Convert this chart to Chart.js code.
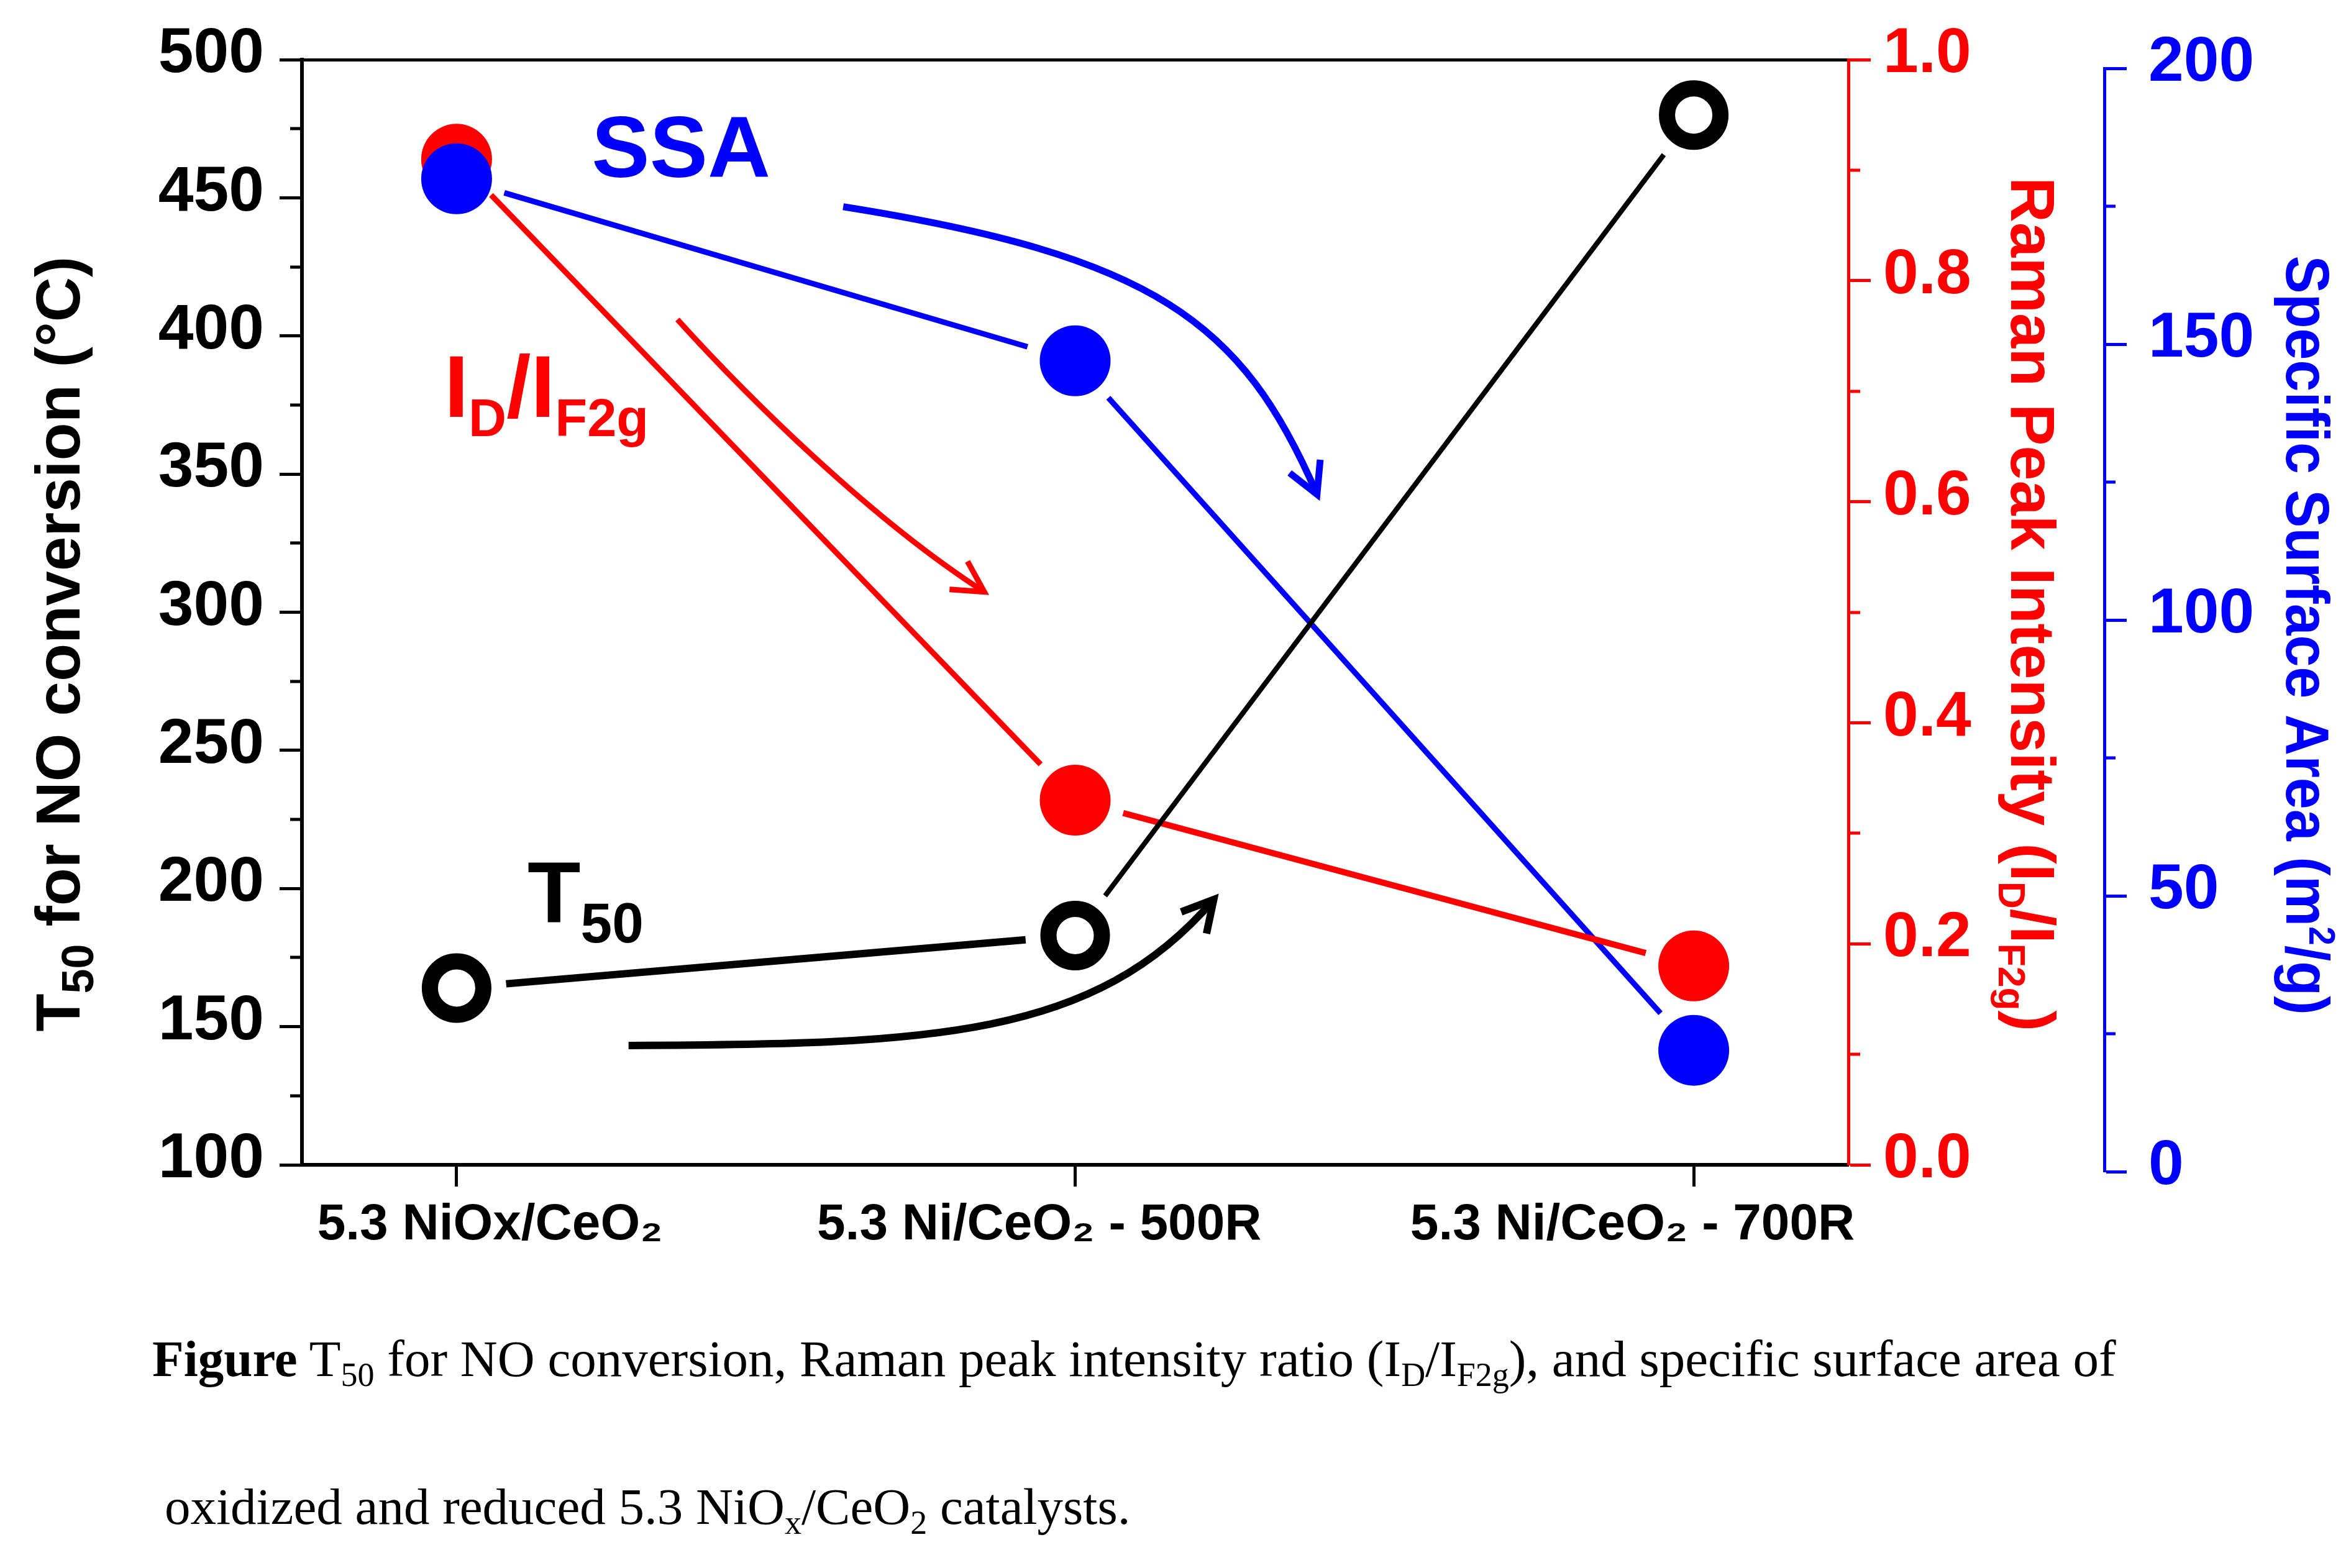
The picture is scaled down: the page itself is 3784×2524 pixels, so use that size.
<!DOCTYPE html>
<html>
<head>
<meta charset="utf-8">
<title>T50 / Raman / SSA</title>
<script src="https://cdn.jsdelivr.net/npm/chart.js@4.4.1/dist/chart.umd.min.js"></script>
<style>
  html, body { margin: 0; padding: 0; background: #fff; }
  #wrap { position: relative; width: 3784px; height: 2524px; overflow: hidden; }
  #chart { position: absolute; left: 0; top: 0; width: 3784px; height: 2524px; }
  .cap { position: absolute; font-family: 'Liberation Serif', 'Times New Roman', serif; font-size: 83px;
         line-height: 83px; white-space: nowrap; color: #000; }
  .cap sub { font-size: 0.65em; vertical-align: -16px; line-height: 0; }
</style>
</head>
<body>
<div id="wrap">
  <canvas id="chart" width="3784" height="2524"></canvas>
  <div class="cap" style="left:245px; top:2146px;"><b>Figure</b> T<sub>50</sub> for NO conversion, Raman peak intensity ratio (I<sub>D</sub>/I<sub>F2g</sub>), and specific surface area of</div>
  <div class="cap" style="left:265px; top:2384px;">oxidized and reduced 5.3 NiO<sub>x</sub>/CeO<sub>2</sub> catalysts.</div>
</div>
<script>
// ---------- data ----------
const categories = ['5.3 NiOx/CeO₂', '5.3 Ni/CeO₂ - 500R', '5.3 Ni/CeO₂ - 700R'];
const t50Values = [164, 183, 480];        // left axis, °C
const ramanRatio = [0.91, 0.33, 0.18];    // red axis, I_D/I_F2g
const ssaValues = [180, 147, 22];         // blue axis, m2/g

const t50Ticks = [100, 150, 200, 250, 300, 350, 400, 450, 500];
const t50Minor = [125, 175, 225, 275, 325, 375, 425, 475];
const ramanTicks = [0, 0.2, 0.4, 0.6, 0.8, 1.0];
const ramanMinor = [0.1, 0.3, 0.5, 0.7, 0.9];
const ssaTicks = [0, 50, 100, 150, 200];
const ssaMinor = [25, 75, 125, 175];

// ---------- look ----------
const BLACK = '#000000', RED = '#ff0000', BLUE = '#0000ff';
const SANS = "'Liberation Sans', Arial, sans-serif";
const tickFont = { family: SANS, size: 102, weight: 'bold' };
const GAP = 80;                 // gap between symbol centre and connecting line
const labelCenters = [0.054, 0.942, 1.901];   // category labels are not centred on the ticks
const ssaAxisShift = { top: 14, bottom: 11 }; // blue axis sits a little lower than the frame

// per dataset: connecting line colour and widths of the two segments
const lineStyles = [
  { color: BLUE, widths: [9, 9] },
  { color: RED, widths: [9, 10] },
  { color: BLACK, widths: [12, 8] }
];

// curved arrows, in (category index, left-axis value) units
const arrowPaths = [
  { color: BLUE, width: 11, pts: [[0.625, 446.8], [1.128, 428.9], [1.270, 405.4], [1.391, 342.7]] },
  { color: RED, width: 9, pts: [[0.357, 406.0], [0.468, 378.5], [0.669, 333.8], [0.853, 307.4]] },
  { color: BLACK, width: 12, pts: [[0.278, 143.2], [0.770, 143.6], [1.032, 145.9], [1.224, 196.0]] }
];

const toPoints = vals => vals.map((v, i) => ({ x: i, y: v }));
const fixedTicks = values => scale => { scale.ticks = values.map(v => ({ value: v })); };

// text with sub/superscripts, drawn at an alphabetic baseline
function drawRich(ctx, parts, x, y, o) {
  const fontFor = small => `${o.weight || 'bold'} ${small ? o.size * (o.subScale || 0.65) : o.size}px ${o.family || SANS}`;
  let total = 0;
  const widths = parts.map(([t, k]) => {
    ctx.font = fontFor(!!k);
    const w = ctx.measureText(t).width;
    total += w;
    return w;
  });
  ctx.save();
  ctx.translate(x, y);
  ctx.rotate(o.rotation || 0);
  ctx.scale(o.hscale || 1, 1);
  ctx.fillStyle = o.color;
  ctx.textAlign = 'left';
  ctx.textBaseline = 'alphabetic';
  let cx = o.align === 'center' ? -total / 2 : 0;
  parts.forEach(([t, k], i) => {
    ctx.font = fontFor(!!k);
    let dy = 0;
    if (k === 'sub') dy = (o.subShift || 0.22) * o.size;
    if (k === 'sup') dy = -(o.supShift || 0.38) * o.size;
    ctx.fillText(t, cx, dy);
    cx += widths[i];
  });
  ctx.restore();
}

function drawMinor(chart, id, values, len, color, side) {
  const s = chart.scales[id];
  const ctx = chart.ctx;
  const x0 = side === 'left' ? s.right : s.left;
  const dir = side === 'left' ? -1 : 1;
  ctx.save();
  ctx.strokeStyle = color;
  ctx.lineWidth = 5;
  values.forEach(v => {
    const y = Math.round(s.getPixelForValue(v));
    ctx.beginPath();
    ctx.moveTo(x0, y);
    ctx.lineTo(x0 + dir * len, y);
    ctx.stroke();
  });
  ctx.restore();
}

function drawArrow(ctx, xs, ys, a) {
  const P = a.pts.map(([vx, vy]) => [xs.getPixelForValue(vx), ys.getPixelForValue(vy)]);
  ctx.save();
  ctx.strokeStyle = a.color;
  ctx.lineWidth = a.width;
  ctx.lineCap = 'butt';
  ctx.beginPath();
  ctx.moveTo(P[0][0], P[0][1]);
  ctx.bezierCurveTo(P[1][0], P[1][1], P[2][0], P[2][1], P[3][0], P[3][1]);
  ctx.stroke();
  const ang = Math.atan2(P[3][1] - P[2][1], P[3][0] - P[2][0]);
  const head = 56, spread = 0.5;
  ctx.lineJoin = 'miter';
  ctx.beginPath();
  ctx.moveTo(P[3][0] - head * Math.cos(ang - spread), P[3][1] - head * Math.sin(ang - spread));
  ctx.lineTo(P[3][0], P[3][1]);
  ctx.lineTo(P[3][0] - head * Math.cos(ang + spread), P[3][1] - head * Math.sin(ang + spread));
  ctx.stroke();
  ctx.restore();
}

// ---------- plugins ----------
const shiftSSA = {
  id: 'shiftSSA',
  afterLayout(chart) {
    const s = chart.scales.yS;
    s.top = chart.chartArea.top + ssaAxisShift.top;
    s.bottom = chart.chartArea.bottom + ssaAxisShift.bottom;
    s.height = s.bottom - s.top;
    s.configure();
    s._gridLineItems = null;
    s._labelItems = null;
  }
};

const gapLines = {
  id: 'gapLines',
  beforeDatasetsDraw(chart) {
    const ctx = chart.ctx;
    chart.data.datasets.forEach((ds, di) => {
      const pts = chart.getDatasetMeta(di).data;
      const st = lineStyles[di];
      ctx.save();
      ctx.strokeStyle = st.color;
      ctx.lineCap = 'butt';
      for (let i = 0; i < pts.length - 1; i++) {
        const a = pts[i], b = pts[i + 1];
        const dx = b.x - a.x, dy = b.y - a.y, len = Math.hypot(dx, dy);
        const ux = dx / len, uy = dy / len;
        ctx.lineWidth = st.widths[i];
        ctx.beginPath();
        ctx.moveTo(a.x + ux * GAP, a.y + uy * GAP);
        ctx.lineTo(b.x - ux * GAP, b.y - uy * GAP);
        ctx.stroke();
      }
      ctx.restore();
    });
  }
};

const decorations = {
  id: 'decorations',
  afterDraw(chart) {
    const ctx = chart.ctx;
    const { x, yT, yR, yS } = chart.scales;
    const area = chart.chartArea;
    const midY = (area.top + area.bottom) / 2;

    drawMinor(chart, 'yT', t50Minor, 19, BLACK, 'left');
    drawMinor(chart, 'yR', ramanMinor, 19, RED, 'right');
    drawMinor(chart, 'yS', ssaMinor, 18, BLUE, 'right');

    arrowPaths.forEach(a => drawArrow(ctx, x, yT, a));

    // axis titles
    drawRich(ctx, [['T'], ['50', 'sub'], [' for NO conversion (°C)']], yT.left + 128, midY + 51,
      { size: 100, color: BLACK, rotation: -Math.PI / 2, align: 'center', subScale: 0.72, subShift: 0.22 });
    drawRich(ctx, [['Raman Peak Intensity (I'], ['D', 'sub'], ['/I'], ['F2g', 'sub'], [')']], yR.left + 262, midY - 13,
      { size: 101, color: RED, rotation: Math.PI / 2, align: 'center', subScale: 0.6, subShift: 0.2 });
    drawRich(ctx, [['Specific Surface Area (m'], ['2', 'sup'], ['/g)']], yS.left + 293, midY + 37,
      { size: 98, color: BLUE, rotation: Math.PI / 2, align: 'center', subScale: 0.6, supShift: 0.38, hscale: 0.935 });

    // in-plot labels
    drawRich(ctx, [['SSA']], x.getPixelForValue(0.2184), yT.getPixelForValue(457.5),
      { size: 140, color: BLUE });
    drawRich(ctx, [['I'], ['D', 'sub'], ['/I'], ['F2g', 'sub']], x.getPixelForValue(-0.0201), yT.getPixelForValue(370.7),
      { size: 141, color: RED, subScale: 0.6, subShift: 0.22 });
    drawRich(ctx, [['T'], ['50', 'sub']], x.getPixelForValue(0.1147), yT.getPixelForValue(187.9),
      { size: 140, color: BLACK, subScale: 0.65, subShift: 0.235 });
  }
};

// ---------- chart ----------
const yAxis = (opts) => ({
  type: 'linear',
  ...opts,
  grid: { drawOnChartArea: false, tickLength: 36, tickWidth: 5, tickColor: opts.color },
  border: { color: opts.color, width: opts.borderWidth || 5 },
});

new Chart(document.getElementById('chart'), {
  type: 'scatter',
  data: {
    datasets: [
      {
        label: 'SSA', data: toPoints(ssaValues), yAxisID: 'yS', xAxisID: 'x',
        pointRadius: 57, pointBorderWidth: 0, pointBackgroundColor: BLUE, showLine: false
      },
      {
        label: 'ID/IF2g', data: toPoints(ramanRatio), yAxisID: 'yR', xAxisID: 'x',
        pointRadius: 57, pointBorderWidth: 0, pointBackgroundColor: RED, showLine: false
      },
      {
        label: 'T50', data: toPoints(t50Values), yAxisID: 'yT', xAxisID: 'x',
        pointRadius: 43, pointBorderWidth: 26, pointBorderColor: BLACK, pointBackgroundColor: '#ffffff', showLine: false
      }
    ]
  },
  options: {
    responsive: false,
    devicePixelRatio: 1,
    animation: false,
    events: [],
    layout: { padding: 0 },
    plugins: { legend: { display: false }, tooltip: { enabled: false } },
    scales: {
      x: {
        type: 'linear', position: 'bottom', min: -0.25, max: 2.25, weight: 0,
        afterBuildTicks: fixedTicks([0, 1, 2]),
        afterFit: s => { s.height = 35; },
        ticks: { display: false },
        grid: { drawOnChartArea: false, tickLength: 35, tickWidth: 5, tickColor: BLACK },
        border: { color: BLACK, width: 6 }
      },
      xLabels: {
        type: 'linear', position: 'bottom', min: -0.25, max: 2.25, weight: 1,
        afterBuildTicks: fixedTicks(labelCenters),
        afterFit: s => { s.height = 614; },
        ticks: {
          autoSkip: false, maxRotation: 0, minRotation: 0, padding: 13, color: BLACK,
          font: { family: SANS, size: 82, weight: 'bold' },
          callback: (v, i) => categories[i]
        },
        grid: { display: false, drawTicks: false },
        border: { display: false }
      },
      xTop: {
        type: 'linear', position: 'top', min: -0.25, max: 2.25,
        afterFit: s => { s.height = 87; },
        ticks: { display: false },
        grid: { drawOnChartArea: false, drawTicks: false },
        border: { color: BLACK, width: 5 }
      },
      yT: yAxis({
        position: 'left', min: 100, max: 500, color: BLACK, borderWidth: 6,
        afterBuildTicks: fixedTicks(t50Ticks),
        afterFit: s => { s.width = 486; },
        ticks: { color: BLACK, font: tickFont, padding: 25, labelOffset: -8, callback: v => String(v) }
      }),
      yR: yAxis({
        position: 'right', min: 0, max: 1, color: RED, weight: 0,
        afterBuildTicks: fixedTicks(ramanTicks),
        afterFit: s => { s.width = 412; },
        ticks: { color: RED, font: tickFont, padding: 20, labelOffset: -8, callback: v => v.toFixed(1) }
      }),
      yS: yAxis({
        position: 'right', min: 0, max: 200, color: BLUE, weight: 1,
        afterBuildTicks: fixedTicks(ssaTicks),
        afterFit: s => { s.width = 397; },
        ticks: { color: BLUE, font: tickFont, padding: 35, labelOffset: -8, callback: v => String(v) }
      })
    }
  },
  plugins: [shiftSSA, gapLines, decorations]
});
</script>
</body>
</html>
